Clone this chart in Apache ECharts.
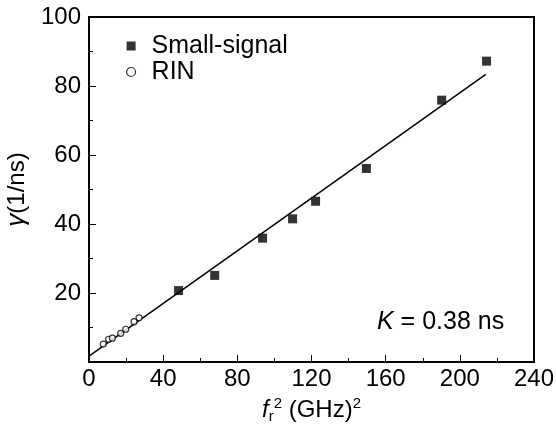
<!DOCTYPE html>
<html>
<head>
<meta charset="utf-8">
<script src="https://cdn.jsdelivr.net/npm/echarts@6/dist/echarts.min.js"></script>
<style>
  html, body { margin: 0; padding: 0; background: #fff; }
  #chart { width: 556px; height: 428px; }
</style>
</head>
<body>
<div id="chart"></div>
<script>
// small-signal measurements: fr^2 (GHz^2) vs gamma (1/ns)
var smallX = [48.3, 67.8, 93.6, 109.8, 122.2, 149.6, 190.2, 214.4];
var smallY = [20.7, 25.1, 35.9, 41.5, 46.6, 56.1, 75.9, 87.2];
// RIN measurements
var rinX = [7.7, 10.6, 12.6, 17.1, 19.8, 24.3, 27.0];
var rinY = [5.2, 6.6, 6.9, 8.3, 9.5, 11.7, 12.8];
// linear fit, K = 0.38 ns
var fitX = [0, 214];
var fitY = [1.7, 83.4];
var xTicks = [0, 40, 80, 120, 160, 200, 240];
var yTicks = [20, 40, 60, 80, 100];

function pairs(xs, ys) {
    var out = [];
    for (var i = 0; i < xs.length; i++) out.push([xs[i], ys[i]]);
    return out;
}

var font = 'Liberation Sans, Arial, sans-serif';

var chart = echarts.init(document.getElementById('chart'));
chart.setOption({
    backgroundColor: '#fff',
    animation: false,
    textStyle: { fontFamily: font },
    grid: {
        left: 89, right: 22, top: 17, bottom: 66, outerBoundsMode: 'none',
        show: true, borderColor: '#000', borderWidth: 2, backgroundColor: 'transparent'
    },
    title: {
        text: '{i|K} = 0.38 ns',
        left: 372, top: 305,
        textStyle: {
            fontFamily: font, fontSize: 25, fontWeight: 'normal', color: '#000',
            rich: { i: { fontFamily: font, fontSize: 25, fontStyle: 'italic', color: '#000' } }
        }
    },
    legend: {
        orient: 'vertical',
        left: 126, top: 33,
        padding: 0,
        itemGap: 0,
        itemWidth: 9, itemHeight: 9,
        textStyle: { fontFamily: font, fontSize: 25, lineHeight: 26, color: '#000', padding: [0, 0, 0, 11] },
        data: [
            { name: 'Small-signal', icon: 'rect', itemStyle: { color: '#000' } },
            { name: 'RIN', icon: 'circle', itemStyle: { color: '#fff', borderColor: '#000', borderWidth: 1.2 } }
        ]
    },
    xAxis: {
        type: 'value', min: 0, max: 240, interval: 40,
        name: '{i|f}{sub|r}{sup|2} (GHz){sup|2}',
        nameLocation: 'middle', nameGap: 19,
        nameTextStyle: {
            fontFamily: font, fontSize: 24, color: '#000',
            rich: {
                i: { fontFamily: font, fontSize: 24, fontStyle: 'italic', color: '#000' },
                sub: { fontFamily: font, fontSize: 15, color: '#000', verticalAlign: 'bottom', padding: [13, 0, 0, 0] },
                sup: { fontFamily: font, fontSize: 15, color: '#000', verticalAlign: 'top', padding: [0, 0, 11, 0] }
            }
        },
        axisLine: { show: true, lineStyle: { color: '#000', width: 2 } },
        axisTick: { show: true, inside: true, length: 7, lineStyle: { color: '#000', width: 1 } },
        minorTick: { show: true, splitNumber: 2, length: 4, lineStyle: { color: '#000', width: 1 } },
        axisLabel: { fontFamily: font, fontSize: 24, color: '#000', margin: 5,
            formatter: function (v) { return xTicks.indexOf(v) >= 0 ? String(v) : ''; } },
        splitLine: { show: false }
    },
    yAxis: {
        type: 'value', min: 0, max: 100, interval: 20,
        name: '{g|γ}(1/ns)',
        nameLocation: 'middle', nameGap: 41,
        nameTextStyle: {
            fontFamily: font, fontSize: 24, color: '#000',
            rich: { g: { fontFamily: font, fontSize: 26, fontStyle: 'italic', color: '#000' } }
        },
        axisLine: { show: true, lineStyle: { color: '#000', width: 2 } },
        axisTick: { show: true, inside: true, length: 7, lineStyle: { color: '#000', width: 1 } },
        minorTick: { show: true, splitNumber: 2, length: 4, lineStyle: { color: '#000', width: 1 } },
        axisLabel: { fontFamily: font, fontSize: 24, color: '#000', margin: 8,
            formatter: function (v) { return yTicks.indexOf(v) >= 0 ? String(v) : ''; } },
        splitLine: { show: false }
    },
    series: [{
        name: 'fit', type: 'line', data: pairs(fitX, fitY),
        symbol: 'none', lineStyle: { color: '#000', width: 1.5 }, silent: true, z: 1
    }, {
        name: 'Small-signal', type: 'scatter', data: pairs(smallX, smallY),
        symbol: 'rect', symbolSize: 9, itemStyle: { color: '#000' }, z: 3
    }, {
        name: 'RIN', type: 'scatter', data: pairs(rinX, rinY),
        symbol: 'circle', symbolSize: 6,
        itemStyle: { color: '#fff', borderColor: '#000', borderWidth: 1.2 }, z: 3
    }]
});
</script>
</body>
</html>
